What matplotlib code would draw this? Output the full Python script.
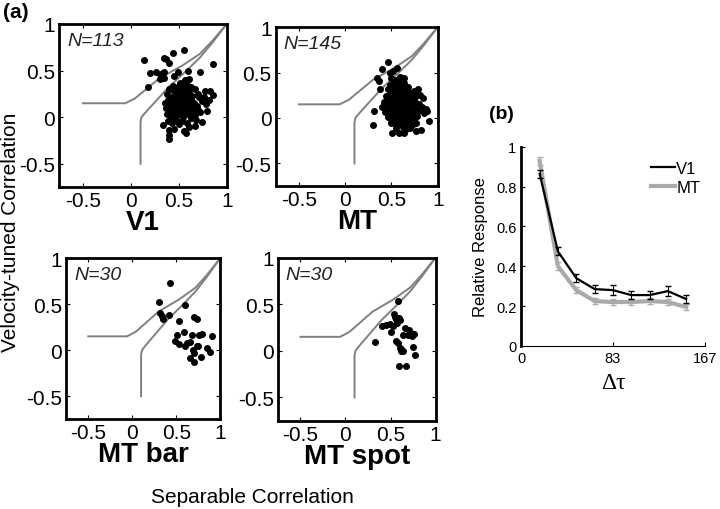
import matplotlib
matplotlib.use('Agg')
import matplotlib.pyplot as plt
from matplotlib.lines import Line2D

plt.rcParams['font.family'] = ['Liberation Sans', 'DejaVu Sans']
plt.rcParams['axes.unicode_minus'] = False

# boundary curves (same in all four scatter panels)
upper_x = [-0.5, -0.06, 0.04, 0.3, 0.53, 0.72, 0.85, 1.0]
upper_y = [0.15, 0.15, 0.2, 0.42, 0.55, 0.68, 0.82, 1.0]
lower_x = [0.1, 0.1, 0.11, 0.15, 0.4, 0.58, 0.72, 0.85, 1.0]
lower_y = [-0.5, -0.05, 0.0, 0.05, 0.33, 0.5, 0.64, 0.8, 1.0]

# V1 (N=113)
v1_x = [0.14, 0.34, 0.37, 0.44, 0.55, 0.40, 0.86, 0.20, 0.26, 0.30, 0.33, 0.35, 0.30, 0.35,
        0.49, 0.60, 0.72, 0.18, 0.61, 0.51, 0.44, 0.63, 0.77, 0.82, 0.70, 0.86, 0.45, 0.56,
        0.33, 0.40, 0.40, 0.40, 0.45, 0.55, 0.57, 0.67, 0.74, 0.70, 0.67, 0.60,
        0.38, 0.42, 0.45, 0.48, 0.50, 0.53, 0.56, 0.58, 0.61, 0.64, 0.67, 0.71,
        0.39, 0.43, 0.46, 0.49, 0.52, 0.55, 0.57, 0.60, 0.63, 0.66, 0.69, 0.74, 0.78,
        0.37, 0.41, 0.44, 0.47, 0.50, 0.53, 0.56, 0.59, 0.62, 0.65, 0.72,
        0.38, 0.42, 0.45, 0.48, 0.51, 0.54, 0.57, 0.63, 0.68,
        0.39, 0.43, 0.47, 0.50, 0.53, 0.58, 0.61,
        0.44, 0.49, 0.54, 0.58, 0.47, 0.55, 0.52, 0.46, 0.60, 0.41, 0.50, 0.44,
        0.79, 0.81, 0.76, 0.40, 0.36, 0.52, 0.65, 0.42]
v1_y = [0.61, 0.64, 0.62, 0.69, 0.72, 0.58, 0.57, 0.47, 0.48, 0.46, 0.47, 0.49, 0.41, 0.42,
        0.49, 0.50, 0.49, 0.32, 0.41, 0.37, 0.30, 0.32, 0.28, 0.28, 0.25, 0.24, 0.44, 0.40,
        -0.08, -0.14, -0.19, -0.23, -0.13, -0.15, -0.17, -0.09, -0.05, 0.08, 0.02, 0.05,
        0.25, 0.22, 0.28, 0.24, 0.27, 0.22, 0.29, 0.25, 0.27, 0.23, 0.30, 0.22,
        0.18, 0.15, 0.19, 0.17, 0.20, 0.16, 0.19, 0.14, 0.18, 0.15, 0.12, 0.17, 0.14,
        0.10, 0.08, 0.12, 0.09, 0.13, 0.10, 0.07, 0.11, 0.08, 0.10, 0.06,
        0.03, 0.01, 0.05, 0.02, 0.04, 0.00, 0.03, -0.01, -0.03,
        -0.04, -0.06, -0.03, -0.07, -0.04, -0.06, -0.10,
        0.34, 0.32, 0.34, 0.35, 0.21, 0.24, 0.15, 0.14, 0.20, 0.12, 0.09, 0.20,
        0.07, 0.18, 0.22, 0.30, 0.15, 0.30, 0.04, -0.02]

# MT (N=145)
mt_x = [0.46, 0.40, 0.34, 0.37, 0.48, 0.52, 0.56, 0.38, 0.31, 0.30, 0.51, 0.58, 0.63, 0.77,
        0.82, 0.90, 0.88, 0.85, 0.81, 0.79, 0.84,
        0.50, 0.55, 0.60, 0.52, 0.58, 0.64, 0.68,
        0.46, 0.50, 0.54, 0.57, 0.61, 0.65, 0.70, 0.74, 0.78,
        0.44, 0.48, 0.52, 0.55, 0.59, 0.62, 0.66, 0.69, 0.73, 0.77,
        0.42, 0.46, 0.50, 0.53, 0.57, 0.60, 0.63, 0.67, 0.71, 0.75, 0.80,
        0.40, 0.44, 0.48, 0.51, 0.55, 0.58, 0.62, 0.65, 0.69, 0.72, 0.76, 0.83,
        0.43, 0.47, 0.50, 0.54, 0.57, 0.61, 0.64, 0.68, 0.71, 0.75, 0.79,
        0.46, 0.50, 0.53, 0.57, 0.60, 0.63, 0.67, 0.70, 0.74, 0.78,
        0.49, 0.53, 0.56, 0.60, 0.64, 0.68, 0.72, 0.76,
        0.55, 0.62, 0.66, 0.70,
        0.56, 0.60, 0.62, 0.58, 0.64, 0.52, 0.66, 0.54, 0.48, 0.59, 0.63,
        0.53, 0.57, 0.61, 0.65, 0.69, 0.51, 0.59, 0.67, 0.73, 0.56, 0.62, 0.70,
        0.47, 0.55, 0.63, 0.71, 0.58, 0.66, 0.74, 0.45, 0.54, 0.61, 0.68, 0.87,
        0.60, 0.52, 0.65, 0.57, 0.69, 0.49, 0.62]
mt_y = [0.62, 0.54, 0.44, 0.41, 0.50, 0.52, 0.55, 0.32, 0.08, -0.08, -0.16, -0.17, -0.16, -0.14,
        -0.13, -0.03, 0.08, 0.06, 0.25, 0.32, 0.22,
        0.44, 0.42, 0.40, 0.38, 0.36, 0.38, 0.34,
        0.32, 0.30, 0.33, 0.29, 0.32, 0.30, 0.28, 0.30, 0.27,
        0.24, 0.26, 0.23, 0.26, 0.24, 0.27, 0.23, 0.25, 0.22, 0.24,
        0.18, 0.20, 0.17, 0.20, 0.18, 0.21, 0.17, 0.19, 0.16, 0.18, 0.15,
        0.12, 0.14, 0.11, 0.14, 0.12, 0.15, 0.11, 0.14, 0.10, 0.13, 0.11, 0.12,
        0.07, 0.05, 0.08, 0.06, 0.09, 0.05, 0.08, 0.04, 0.07, 0.05, 0.08,
        0.01, -0.01, 0.02, 0.00, 0.03, -0.02, 0.01, -0.01, 0.00, 0.02,
        -0.06, -0.05, -0.08, -0.05, -0.07, -0.05, -0.08, -0.06,
        -0.11, -0.10, -0.12, -0.11,
        0.22, 0.16, 0.22, 0.10, 0.02, 0.10, 0.27, 0.16, 0.36, 0.45, 0.44,
        0.28, 0.21, 0.13, 0.20, 0.13, 0.25, 0.03, -0.03, 0.19, -0.02, 0.07, 0.22,
        0.17, 0.09, 0.29, 0.04, 0.31, 0.10, 0.14, 0.09, 0.34, 0.00, -0.04, 0.10,
        0.25, 0.03, 0.16, 0.13, 0.21, 0.22, 0.34]

# MT bar (N=30)
bar_x = [0.43, 0.30, 0.60, 0.31, 0.34, 0.35, 0.42, 0.53, 0.70, 0.73, 0.51, 0.59, 0.68, 0.76,
         0.79, 0.90, 0.48, 0.53, 0.62, 0.65, 0.60, 0.73, 0.75, 0.69, 0.70, 0.85, 0.88, 0.78,
         0.66, 0.70]
bar_y = [0.73, 0.52, 0.49, 0.40, 0.37, 0.34, 0.38, 0.32, 0.36, 0.34, 0.17, 0.20, 0.16, 0.17,
         0.18, 0.15, 0.10, 0.07, 0.08, 0.09, 0.05, 0.04, 0.04, 0.00, -0.03, 0.02, -0.02, -0.07,
         -0.09, -0.13]

# MT spot (N=30)
spot_x = [0.58, 0.54, 0.56, 0.59, 0.61, 0.49, 0.53, 0.41, 0.50, 0.66, 0.71, 0.76, 0.64, 0.69,
          0.74, 0.33, 0.56, 0.58, 0.62, 0.64, 0.61, 0.75, 0.77, 0.59, 0.67, 0.45, 0.55, 0.62,
          0.72, 0.57]
spot_y = [0.53, 0.40, 0.34, 0.35, 0.33, 0.29, 0.27, 0.27, 0.20, 0.24, 0.22, 0.18, 0.17, 0.17,
          0.16, 0.09, 0.11, 0.08, 0.02, 0.00, 0.03, 0.04, -0.05, -0.16, -0.16, 0.28, 0.36, 0.00,
          0.20, 0.30]

# panel (b)
dtau = [16.7, 33.3, 50, 66.7, 83.3, 100, 116.7, 133.3, 150]
v1_resp = [0.865, 0.475, 0.34, 0.285, 0.28, 0.255, 0.255, 0.275, 0.235]
v1_err = [0.02, 0.02, 0.02, 0.02, 0.025, 0.02, 0.02, 0.025, 0.02]
mt_resp = [0.93, 0.40, 0.28, 0.225, 0.22, 0.22, 0.225, 0.22, 0.195]
mt_err = [0.02, 0.02, 0.015, 0.015, 0.015, 0.015, 0.015, 0.015, 0.015]

fig = plt.figure(figsize=(7.2, 5.1), dpi=100)

panels = [
    ([0.082, 0.631, 0.233, 0.320], v1_x, v1_y, 'N=113', 'V1'),
    ([0.383, 0.633, 0.225, 0.312], mt_x, mt_y, 'N=145', 'MT'),
    ([0.092, 0.176, 0.214, 0.316], bar_x, bar_y, 'N=30', 'MT bar'),
    ([0.386, 0.173, 0.219, 0.320], spot_x, spot_y, 'N=30', 'MT spot'),
]

for rect, xs, ys, ntxt, name in panels:
    ax = fig.add_axes(rect)
    ax.plot(upper_x, upper_y, color='#808080', lw=1.4)
    ax.plot(lower_x, lower_y, color='#808080', lw=1.4)
    ax.plot(xs, ys, 'o', color='black', ms=4)
    ax.set_xlim(-0.75, 1)
    ax.set_ylim(-0.75, 1)
    ax.set_xticks([-0.5, 0, 0.5, 1])
    ax.set_yticks([-0.5, 0, 0.5, 1])
    ax.set_xticklabels(['-0.5', '0', '0.5', '1'])
    ax.set_yticklabels(['-0.5', '0', '0.5', '1'])
    ax.tick_params(direction='in', top=True, right=True, length=3, width=0.8,
                   labelsize=15, pad=3)
    for sp in ax.spines.values():
        sp.set_linewidth(2)
    ax.text(0.05, 0.95, ntxt, transform=ax.transAxes, ha='left', va='top',
            fontsize=14, style='italic', color='#222222')
    ax.set_xlabel(name, fontsize=20, fontweight='bold', labelpad=-1)

fig.text(0.004, 0.994, '(a)', fontsize=15, fontweight='bold', ha='left', va='top')
fig.text(0.014, 0.545, 'Velocity-tuned Correlation', rotation=90, fontsize=15,
         ha='center', va='center')
fig.text(0.35, 0.025, 'Separable Correlation', fontsize=15, ha='center', va='center')

# panel (b)
axb = fig.add_axes([0.724, 0.320, 0.255, 0.390])
axb.errorbar(dtau, mt_resp, yerr=mt_err, color='#aaaaaa', lw=3, elinewidth=0.8,
             capsize=2, zorder=2)
axb.errorbar(dtau, v1_resp, yerr=v1_err, color='black', lw=1.6, elinewidth=0.8,
             capsize=2, zorder=3)
axb.set_xlim(0, 167)
axb.set_ylim(0, 1)
axb.set_xticks([0, 83, 167])
axb.set_yticks([0, 0.2, 0.4, 0.6, 0.8, 1])
axb.set_yticklabels(['0', '0.2', '0.4', '0.6', '0.8', '1'])
axb.tick_params(direction='in', length=3, labelsize=10.5)
axb.spines['top'].set_visible(False)
axb.spines['right'].set_visible(False)
axb.spines['left'].set_linewidth(2)
axb.spines['bottom'].set_linewidth(0.8)
axb.set_ylabel('Relative Response', fontsize=12, labelpad=6)
axb.set_xlabel('Δτ', fontsize=17, family=['Liberation Serif', 'DejaVu Serif'], labelpad=5)
handles = [Line2D([], [], color='black', lw=1.6), Line2D([], [], color='#aaaaaa', lw=3)]
axb.legend(handles, ['V1', 'MT'], loc='upper right', frameon=False, fontsize=12,
           handlelength=1.4, handletextpad=0.1, borderaxespad=0.1, labelspacing=0.2,
           bbox_to_anchor=(1.02, 0.97))
fig.text(0.697, 0.775, '(b)', fontsize=14, fontweight='bold', ha='center', va='center')

fig.savefig('out.png', dpi=100)
